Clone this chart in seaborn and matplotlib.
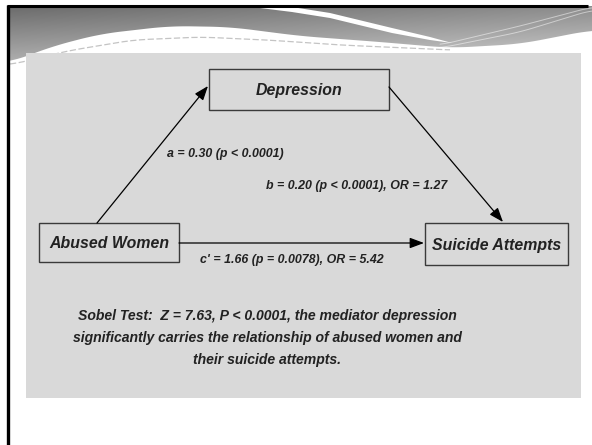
import numpy as np
import matplotlib
matplotlib.use("Agg")
import matplotlib.pyplot as plt
from matplotlib.patches import Rectangle, Polygon, FancyArrowPatch
import seaborn as sns

# 1) DATA ─────────────────────────────────────────────────────────────────────
nodes = ["Abused Women", "Depression", "Suicide Attempts"]
path_names = ["a", "b", "c'"]
path_src = ["Abused Women", "Depression", "Abused Women"]
path_dst = ["Depression", "Suicide Attempts", "Suicide Attempts"]
path_coef = [0.30, 0.20, 1.66]
path_p = ["p < 0.0001", "p < 0.0001", "p = 0.0078"]
path_or = [None, 1.27, 5.42]
sobel_z = 7.63
sobel_p = "P < 0.0001"
sobel_note = ["the mediator depression",
              "significantly carries the relationship of abused women and",
              "their suicide attempts."]

# 2) LAYOUT (pixel space of the slide) ────────────────────────────────────────
W, H = 592, 445
box_xywh = {"Abused Women": (39, 223, 140, 39),
            "Depression": (209, 69, 180, 41),
            "Suicide Attempts": (425, 223, 143, 42)}
path_ends = [((97, 223), (208, 86)),
             ((389, 87), (503, 222)),
             ((179, 243), (424, 243))]
label_pos = [(225, 153), (357, 184), (292, 259)]   # label centres
sobel_pos = (267, 338)

sns.set_theme(style="white")
plt.rcParams["font.family"] = ["Liberation Sans", "DejaVu Sans"]
FONT = dict(weight="bold", style="italic", color="#222222")

fig = plt.figure(figsize=(W / 100, H / 100), dpi=100)
ax = fig.add_axes([0, 0, 1, 1])
ax.set_xlim(0, W); ax.set_ylim(H, 0); ax.axis("off")


def smooth(pts, n=200):
    pts = np.asarray(pts, float)
    x = np.linspace(pts[0, 0], pts[-1, 0], n)
    y = np.interp(x, pts[:, 0], pts[:, 1])
    k = np.ones(15) / 15
    y = np.convolve(np.pad(y, 7, mode="edge"), k, mode="valid")
    return np.column_stack([x, y])


# 3) SLIDE DECORATION ─────────────────────────────────────────────────────────
edge = smooth([(9, 63), (50, 47), (100, 34), (170, 26), (230, 27), (300, 36),
               (380, 42), (450, 48), (520, 44), (592, 30)])
band = np.vstack([[(9, 6), (592, 6)], edge[::-1]])
clip = Polygon(band, closed=True, facecolor="none", edgecolor="none")
ax.add_patch(clip)
gy, gx = np.mgrid[0:1:64j, 0:1:200j]
grad = 0.42 + 0.30 * gy + 0.13 * gx
im = ax.imshow(grad, extent=(9, 592, 70, 6), cmap="gray", vmin=0, vmax=1,
               aspect="auto", interpolation="bilinear", zorder=1)
im.set_clip_path(clip)

stripe = [(247, 6), (292, 7), (330, 13), (392, 28), (430, 37), (452, 43),
          (430, 40), (392, 33), (330, 18), (292, 12), (260, 8)]
ax.add_patch(Polygon(stripe, closed=True, facecolor="white", edgecolor="none", zorder=2))
for off in (0, 6):
    s = smooth([(440, 48 - off / 2), (520, 32 - off), (592, 10 - off / 2)], 80)
    ax.plot(s[:, 0], s[:, 1], color="white", lw=0.7, alpha=0.5, zorder=2)
dash = smooth([(10, 65), (67, 51), (133, 40), (200, 37), (267, 40), (340, 45),
               (450, 50)])
ax.plot(dash[:, 0], dash[:, 1], color="#c4c4c4", lw=0.9, ls=(0, (5, 2)), zorder=2)

ax.plot([7, 588], [5.5, 5.5], color="black", lw=2.2, zorder=3, solid_capstyle="butt")
ax.plot([8, 8], [4.5, H], color="black", lw=2.4, zorder=3, solid_capstyle="butt")

ax.add_patch(Rectangle((26, 53), 555, 345, facecolor="#d9d9d9", edgecolor="none", zorder=4))

# 4) MEDIATION DIAGRAM ────────────────────────────────────────────────────────
for name in nodes:
    x, y, w, h = box_xywh[name]
    ax.add_patch(Rectangle((x, y), w, h, facecolor="#d9d9d9", edgecolor="#3a3a3a",
                           lw=1.0, zorder=5))
    ax.text(x + w / 2, y + h / 2, name, ha="center", va="center_baseline",
            fontsize=11.4, zorder=6, **FONT)

for i, (start, end) in enumerate(path_ends):
    ax.add_patch(FancyArrowPatch(start, end, shrinkA=0, shrinkB=0,
                                 arrowstyle="-|>,head_length=0.86,head_width=0.32",
                                 mutation_scale=10, color="black", lw=0.9, zorder=5))
    lab = f"{path_names[i]} = {path_coef[i]:.2f} ({path_p[i]})"
    if path_or[i] is not None:
        lab += f", OR = {path_or[i]:.2f}"
    lx, ly = label_pos[i]
    ax.text(lx, ly, lab, ha="center", va="center_baseline", fontsize=8.9, zorder=6, **FONT)

sobel = (f"Sobel Test:  Z = {sobel_z:.2f}, {sobel_p}, {sobel_note[0]}\n"
         f"{sobel_note[1]}\n{sobel_note[2]}")
ax.text(*sobel_pos, sobel, ha="center", va="center", fontsize=10.1,
        linespacing=1.75, zorder=6, **FONT)

fig.savefig("out.png", dpi=100)
